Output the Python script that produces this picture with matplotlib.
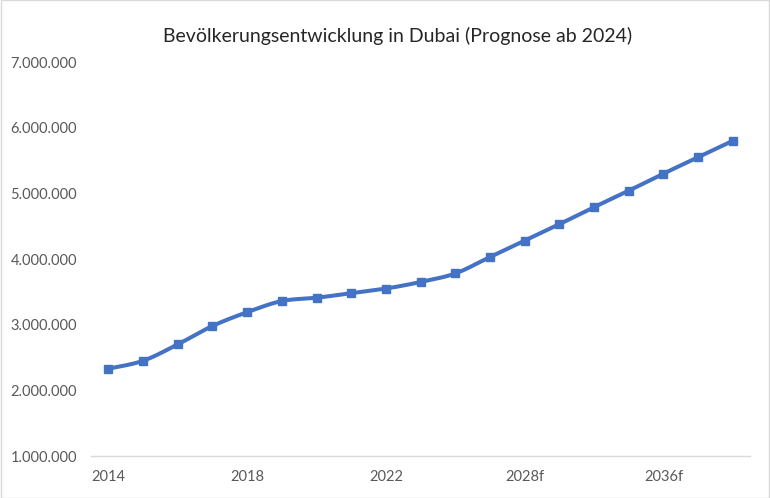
import numpy as np
import matplotlib
matplotlib.use("Agg")
import matplotlib.pyplot as plt
from matplotlib.ticker import FuncFormatter

plt.rcParams['font.family'] = ['Lato', 'DejaVu Sans']

# Daten (Einwohner, ab 2026 Prognose)
jahre = ['2014', '2015', '2016', '2017', '2018', '2019', '2020', '2021', '2022',
         '2023', '2024', '2026f', '2028f', '2030f', '2032f', '2034f', '2036f',
         '2038f', '2040f']
einwohner = [2330000, 2450000, 2700000, 2980000, 3190000, 3360000, 3410000,
             3480000, 3550000, 3650000, 3780000, 4030000, 4280000, 4530000,
             4790000, 5040000, 5300000, 5550000, 5800000]
titel = 'Bevölkerungsentwicklung in Dubai (Prognose ab 2024)'

blau = '#4472C4'
grau = '#595959'


def glatt(x, y, n=30):
    # geglaettete Linie wie in Excel (Catmull-Rom als Bezier)
    x = np.asarray(x, float)
    y = np.asarray(y, float)
    xs, ys = [], []
    for i in range(len(x) - 1):
        i0 = max(i - 1, 0)
        i3 = min(i + 2, len(x) - 1)
        c1x = x[i] + (x[i + 1] - x[i0]) / 6
        c1y = y[i] + (y[i + 1] - y[i0]) / 6
        c2x = x[i + 1] - (x[i3] - x[i]) / 6
        c2y = y[i + 1] - (y[i3] - y[i]) / 6
        t = np.linspace(0, 1, n)
        a = (1 - t) ** 3
        b = 3 * (1 - t) ** 2 * t
        c = 3 * (1 - t) * t ** 2
        d = t ** 3
        xs.extend(a * x[i] + b * c1x + c * c2x + d * x[i + 1])
        ys.extend(a * y[i] + b * c1y + c * c2y + d * y[i + 1])
    return xs, ys


fig = plt.figure(figsize=(7.7, 4.98), dpi=100)
ax = fig.add_axes([0.1182, 0.0843, 0.856, 0.7912])

xpos = np.arange(len(jahre))
sx, sy = glatt(xpos, einwohner)
ax.plot(sx, sy, color=blau, lw=2.9, solid_capstyle='round', zorder=2)
ax.plot(xpos, einwohner, ls='none', marker='s', ms=5.5, color=blau, zorder=3)

ax.set_xlim(-0.5, len(jahre) - 0.5)
ax.set_ylim(1000000, 7000000)
ax.set_yticks(np.arange(1000000, 7000001, 1000000))
ax.yaxis.set_major_formatter(FuncFormatter(lambda v, p: f'{int(v):,}'.replace(',', '.')))
ax.set_xticks(xpos[::4])
ax.set_xticklabels(jahre[::4])

for s in ['top', 'right', 'left']:
    ax.spines[s].set_visible(False)
ax.spines['bottom'].set_color('#D9D9D9')
ax.spines['bottom'].set_linewidth(1)
ax.tick_params(axis='both', length=0, labelsize=10.5, colors=grau)
ax.tick_params(axis='y', pad=10)
ax.tick_params(axis='x', pad=10)

fig.text(0.516, 0.927, titel, ha='center', va='center', fontsize=14, color='#262626')

# Rahmen um das Diagramm
fig.patches.append(plt.Rectangle((0.0007, 0.001), 0.9986, 0.998, transform=fig.transFigure,
                                 fill=False, edgecolor='#D9D9D9', lw=1))

fig.savefig('out.png', dpi=100)
